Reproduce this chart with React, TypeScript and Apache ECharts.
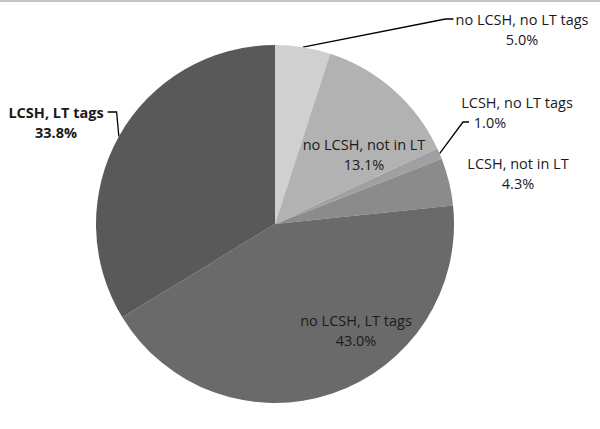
import React, { useEffect, useRef } from "react";
import * as echarts from "echarts";

const categories = [
  "no LCSH, no LT tags",
  "no LCSH, not in LT",
  "LCSH, no LT tags",
  "LCSH, not in LT",
  "no LCSH, LT tags",
  "LCSH, LT tags",
];
const values = [5.0, 13.1, 1.0, 4.3, 43.0, 33.8];
const sliceColors = ["#d0d0d0", "#b2b2b2", "#a0a0a0", "#8b8b8b", "#6a6a6a", "#595959"];
const labelPlacement = ["outside", "inside", "outside", "outside", "inside", "outside"];
const labelCenters = [
  [522, 29],
  [364, 154],
  [517, 112],
  [518, 173],
  [356, 330],
  [56, 122],
];

const FONT = "Open Sans";
const FS = 14.5;
const LH = 20;

export default function App() {
  const ref = useRef<HTMLDivElement>(null);
  useEffect(() => {
    document.body.style.margin = "0";
    const chart = echarts.init(ref.current!, null, { renderer: "svg" });
    const data = categories.map((name, i) => {
      const bold = i === 5;
      const item: any = {
        name,
        value: values[i],
        itemStyle: { color: sliceColors[i] },
        label: {
          position: labelPlacement[i],
          fontWeight: bold ? "bold" : "normal",
        },
        labelLine: { show: i === 0 || i === 2 || i === 5 },
      };
      if (i === 2) {
        item.label.formatter = (p: any) => `{n|${p.name}}\n{p|${p.value.toFixed(1)}%}`;
      }
      return item;
    });
    chart.setOption({
      animation: false,
      backgroundColor: "#ffffff",
      graphic: [
        {
          type: "rect",
          shape: { x: 0, y: 0, width: 600, height: 2 },
          style: { fill: "#c4c4c4" },
        },
      ],
      series: [
        {
          type: "pie",
          center: [275, 224],
          radius: 179,
          startAngle: 90,
          clockwise: true,
          avoidLabelOverlap: false,
          itemStyle: { borderWidth: 0 },
          label: {
            show: true,
            color: "#1a1a1a",
            fontFamily: FONT,
            fontSize: FS,
            lineHeight: LH,
            align: "center",
            formatter: (p: any) => `${p.name}\n${p.value.toFixed(1)}%`,
            rich: {
              n: { fontFamily: FONT, fontSize: FS, lineHeight: LH, color: "#1a1a1a" },
              p: { fontFamily: FONT, fontSize: FS, lineHeight: LH, color: "#1a1a1a", padding: [0, 54, 0, 0] },
            },
          },
          labelLine: {
            lineStyle: { color: "#000000", width: 1.3 },
            length: 10,
            length2: 10,
          },
          labelLayout: (params: any) => {
            const i = params.dataIndex;
            const [cx, cy] = labelCenters[i];
            const w = params.labelRect.width;
            const res: any = { x: cx, y: cy, align: "center", verticalAlign: "middle" };
            const anchor = params.labelLinePoints ? params.labelLinePoints[0] : null;
            if (anchor) {
              if (i === 0) {
                const left = cx - w / 2 - 2;
                res.labelLinePoints = [anchor, [left - 8, cy - LH / 2], [left, cy - LH / 2]];
              } else if (i === 2) {
                res.labelLinePoints = [anchor, [cx - 54, cy + LH / 2], [cx - 48, cy + LH / 2]];
              } else if (i === 5) {
                const right = cx + w / 2;
                res.labelLinePoints = [anchor, [right + 13, cy - LH / 2], [right + 4, cy - LH / 2]];
              }
            }
            return res;
          },
          data,
        },
      ],
    });
    return () => chart.dispose();
  }, []);
  return <div ref={ref} style={{ width: 600, height: 429 }} />;
}
